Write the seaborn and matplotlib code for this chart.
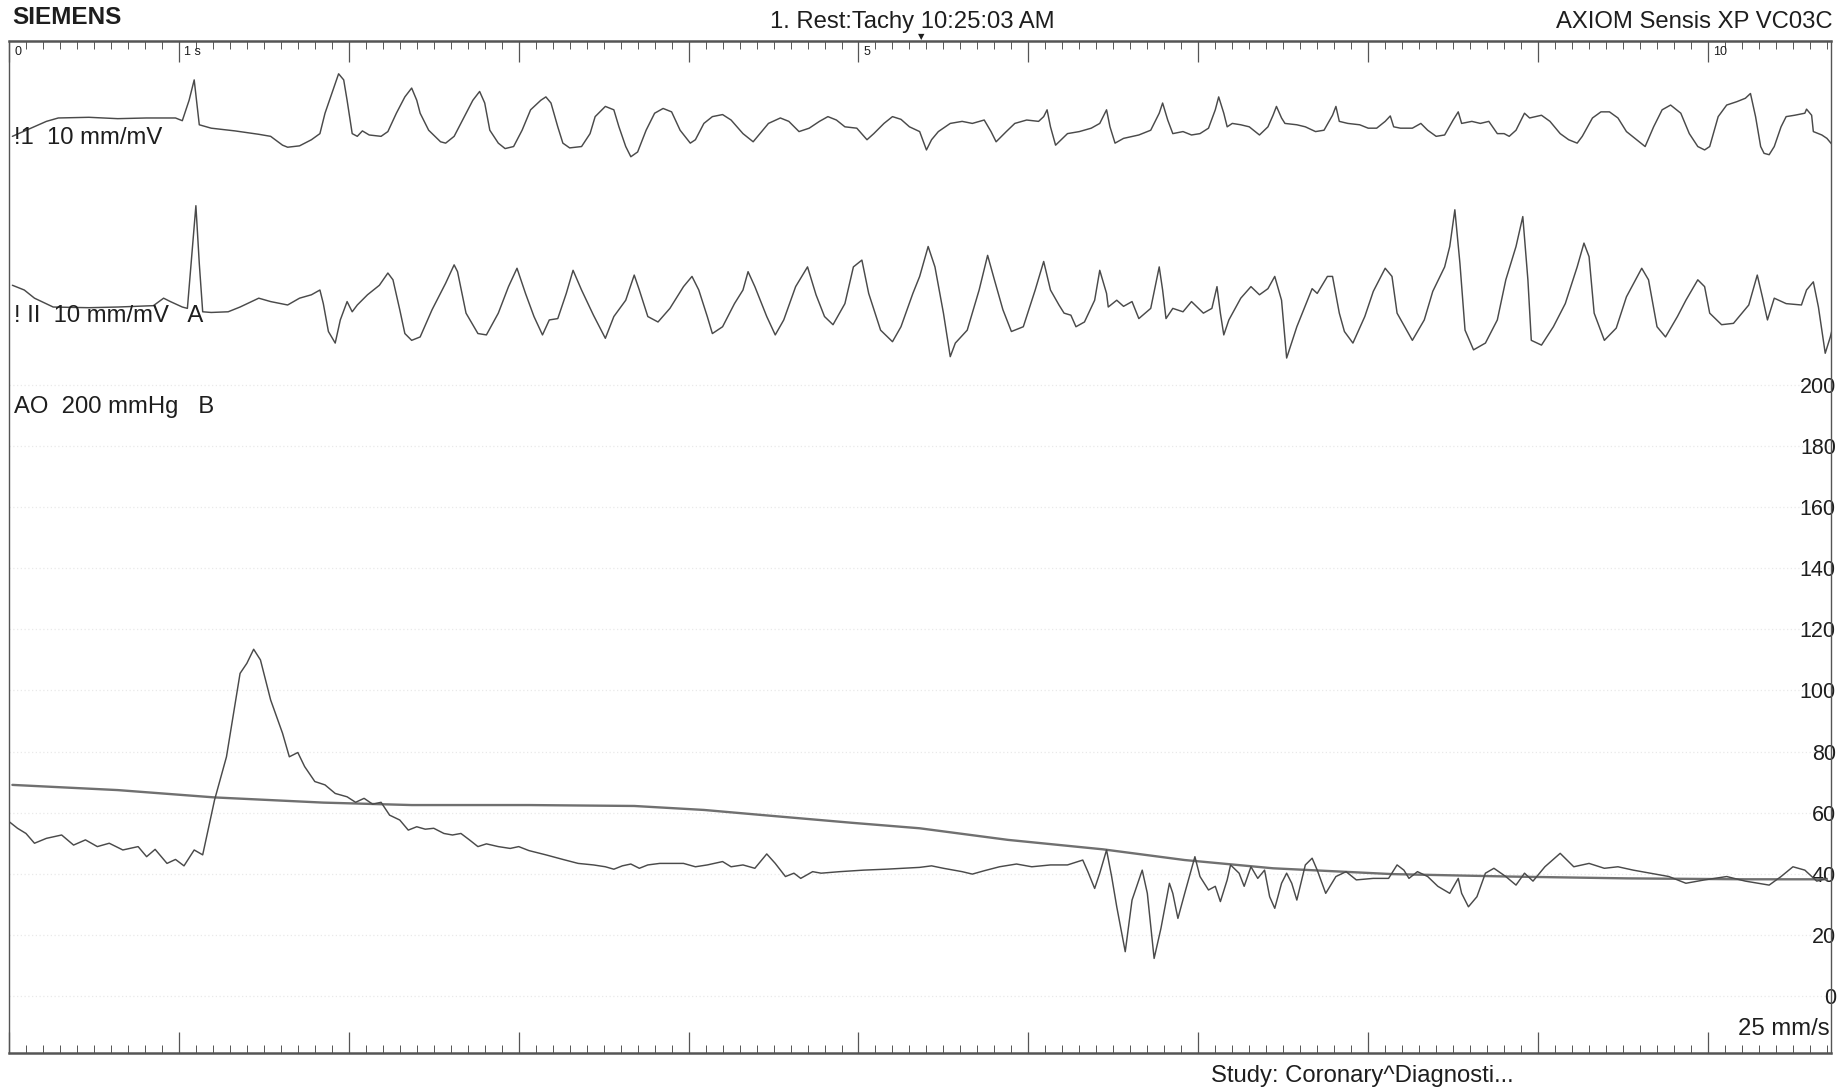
import numpy as np
import pandas as pd
import matplotlib
matplotlib.use("Agg")
import matplotlib.pyplot as plt
import matplotlib.transforms as mtransforms
from matplotlib.ticker import MultipleLocator
import seaborn as sns

# ---------------- data ----------------
lead1_t = [0.02,0.22,0.29,0.47,0.64,0.81,0.98,1.02,1.06,1.09,1.12,1.19,1.33,1.47,1.54,1.61,1.64,
           1.71,1.78,1.83,1.86,1.90,1.94,1.97,1.99,2.02,2.05,2.08,2.12,2.19,2.23,2.28,2.33,2.37,2.40,2.42,2.47,
           2.54,2.57,2.62,2.68,2.73,2.77,2.80,2.83,2.88,2.92,2.97,3.02,3.07,3.13,3.16,3.19,3.23,3.26,3.30,3.37,
           3.42,3.45,3.51,3.56,3.59,3.63,3.66,3.70,3.75,3.80,3.85,3.90,3.95,4.01,4.04,4.09,4.14,4.20,4.25,4.32,
           4.38,4.42,4.47,4.54,4.59,4.65,4.71,4.77,4.82,4.87,4.92,4.99,5.05,5.09,5.15,5.20,5.25,5.30,5.36,
           5.40,5.43,5.47,5.54,5.61,5.67,5.74,5.78,5.81,5.87,5.92,5.99,6.06,6.09,6.11,6.13,6.16,6.23,6.30,6.37,
           6.42,6.46,6.48,6.51,6.56,6.65,6.72,6.77,6.79,6.82,6.85,6.91,6.96,7.01,7.06,7.10,7.12,7.15,7.17,7.20,
           7.25,7.30,7.36,7.41,7.44,7.46,7.49,7.51,7.58,7.63,7.69,7.74,7.79,7.81,7.83,7.88,7.95,8.00,8.05,8.10,
           8.13,8.15,8.19,8.26,8.31,8.35,8.40,8.45,8.50,8.53,8.55,8.61,8.66,8.71,8.76,8.80,8.83,8.87,8.92,8.95,
           9.02,9.07,9.13,9.18,9.23,9.26,9.32,9.37,9.42,9.47,9.52,9.58,9.63,9.68,9.73,9.78,9.84,9.89,9.94,9.98,
           10.01,10.06,10.11,10.17,10.22,10.25,10.28,10.31,10.33,10.36,10.39,10.43,10.46,10.51,10.57,10.58,
           10.61,10.62,10.67,10.70,10.74,10.76]
lead1_mv = [-0.27,-0.05,0.00,0.01,-0.01,0.00,0.00,-0.04,0.26,0.56,-0.10,-0.15,-0.19,-0.24,-0.27,-0.40,-0.43,
            -0.41,-0.32,-0.23,0.07,0.36,0.65,0.56,0.26,-0.23,-0.27,-0.19,-0.25,-0.27,-0.20,0.07,0.31,0.44,0.26,0.07,-0.18,
            -0.35,-0.37,-0.27,0.02,0.26,0.39,0.22,-0.18,-0.37,-0.45,-0.42,-0.18,0.12,0.26,0.31,0.22,-0.13,-0.37,-0.44,-0.42,
            -0.23,0.02,0.17,0.12,-0.13,-0.42,-0.57,-0.50,-0.18,0.07,0.14,0.09,-0.18,-0.37,-0.32,-0.08,0.02,0.05,-0.03,-0.23,
            -0.35,-0.23,-0.08,0.00,-0.05,-0.20,-0.15,-0.05,0.02,-0.03,-0.13,-0.15,-0.32,-0.23,-0.08,0.02,-0.02,-0.13,-0.20,
            -0.47,-0.32,-0.20,-0.08,-0.05,-0.08,-0.03,-0.20,-0.35,-0.20,-0.08,-0.03,-0.05,0.02,0.12,-0.13,-0.40,-0.23,-0.20,-0.15,
            -0.08,0.12,-0.13,-0.37,-0.30,-0.25,-0.18,0.07,0.22,-0.03,-0.23,-0.20,-0.25,-0.23,-0.15,0.12,0.31,0.07,-0.13,-0.08,
            -0.10,-0.13,-0.25,-0.13,0.04,0.17,0.00,-0.08,-0.10,-0.13,-0.20,-0.18,0.04,0.17,-0.05,-0.08,-0.10,-0.15,-0.15,-0.05,
            0.03,-0.13,-0.15,-0.15,-0.08,-0.18,-0.27,-0.25,-0.03,0.09,-0.08,-0.05,-0.08,-0.05,-0.23,-0.23,-0.27,-0.18,0.07,0.00,
            0.04,-0.05,-0.23,-0.32,-0.37,-0.27,0.00,0.09,0.09,0.00,-0.20,-0.32,-0.42,-0.13,0.12,0.19,0.07,-0.23,-0.42,-0.47,
            -0.42,0.02,0.19,0.24,0.29,0.36,0.02,-0.42,-0.52,-0.54,-0.42,-0.13,0.02,0.04,0.07,0.13,
            0.04,-0.20,-0.25,-0.30,-0.42,-0.35]

lead2_t = [0.02,0.09,0.15,0.26,0.47,0.64,0.85,0.91,0.95,1.02,1.05,1.08,1.10,1.12,1.14,1.19,1.29,1.36,1.47,1.54,
           1.64,1.71,1.78,1.83,1.85,1.88,1.92,1.95,1.99,2.02,2.05,2.11,2.18,2.23,2.26,2.30,2.33,2.37,2.42,2.49,
           2.57,2.62,2.64,2.69,2.73,2.76,2.81,2.88,2.94,2.99,3.04,3.09,3.14,3.18,3.23,3.28,3.32,3.37,3.44,3.51,
           3.56,3.63,3.68,3.71,3.76,3.82,3.89,3.97,4.02,4.06,4.11,4.14,4.20,4.27,4.32,4.35,4.39,4.46,4.51,4.56,
           4.63,4.70,4.75,4.80,4.85,4.92,4.97,5.02,5.06,5.13,5.20,5.25,5.32,5.36,
           5.41,5.45,5.50,5.54,5.57,5.64,5.71,5.76,5.80,5.85,5.90,5.97,6.04,6.09,6.13,6.18,6.21,6.25,6.28,6.33,
           6.39,6.42,6.46,6.47,6.52,6.56,6.61,6.65,6.72,6.77,6.79,6.81,6.85,6.91,6.96,7.03,7.08,7.11,7.13,7.15,
           7.18,7.25,7.31,7.36,7.41,7.45,7.49,7.52,7.58,7.67,7.70,7.76,7.79,7.83,7.86,7.91,7.98,8.03,8.10,8.14,
           8.17,8.26,8.33,8.38,8.45,8.48,8.51,8.54,8.57,8.62,8.69,8.76,8.81,8.87,8.91,8.94,8.96,9.02,9.09,9.16,
           9.23,9.27,9.30,9.33,9.39,9.46,9.52,9.61,9.65,9.70,9.75,9.82,9.87,9.94,9.98,10.01,10.08,10.15,10.24,10.29,
           10.32,10.35,10.39,10.46,10.55,10.58,10.62,10.65,10.69,10.72,10.76]
lead2_mv = [0.32,0.25,0.13,0.00,-0.01,0.00,0.02,0.13,0.08,0.00,-0.02,0.89,1.49,0.64,-0.07,-0.08,-0.07,0.00,0.13,0.08,
            0.03,0.13,0.18,0.25,0.05,-0.36,-0.53,-0.19,0.08,-0.07,0.03,0.18,0.32,0.50,0.40,-0.04,-0.39,-0.49,-0.44,-0.04,
            0.35,0.62,0.52,-0.09,-0.26,-0.39,-0.41,-0.09,0.30,0.57,0.20,-0.14,-0.41,-0.19,-0.17,0.20,0.54,0.25,-0.12,-0.46,
            -0.14,0.10,0.47,0.25,-0.14,-0.22,-0.02,0.30,0.45,0.25,-0.14,-0.39,-0.29,0.05,0.25,0.52,0.30,-0.14,-0.41,-0.19,
            0.30,0.59,0.18,-0.14,-0.26,0.05,0.59,0.69,0.20,-0.34,-0.51,-0.29,0.20,0.45,
            0.89,0.59,-0.09,-0.73,-0.53,-0.34,0.25,0.76,0.40,-0.04,-0.36,-0.29,0.25,0.67,0.25,0.03,-0.09,-0.12,-0.29,-0.22,
            0.10,0.54,0.20,0.00,0.10,0.01,0.08,-0.17,-0.02,0.59,0.25,-0.17,-0.02,-0.07,0.08,-0.09,-0.02,0.30,-0.09,-0.41,
            -0.19,0.13,0.30,0.18,0.27,0.45,0.10,-0.75,-0.29,0.27,0.20,0.45,0.45,-0.09,-0.36,-0.53,-0.14,0.23,0.57,0.45,
            -0.09,-0.49,-0.19,0.23,0.59,0.89,1.43,0.64,-0.34,-0.63,-0.53,-0.19,0.40,0.89,1.33,0.40,-0.49,-0.56,-0.29,0.05,
            0.59,0.94,0.74,-0.09,-0.49,-0.31,0.15,0.57,0.40,-0.29,-0.44,-0.14,0.10,0.40,0.30,-0.09,-0.26,-0.24,0.03,0.47,
            0.15,-0.19,0.13,0.05,0.03,0.25,0.37,0.00,-0.68,-0.44,-0.04]

ao_t = [0.00,0.05,0.10,0.15,0.22,0.31,0.38,0.45,0.52,0.59,0.67,0.76,0.81,0.86,0.93,0.98,1.03,1.09,1.14,1.21,
        1.28,1.36,1.40,1.44,1.48,1.54,1.61,1.65,1.70,1.74,1.80,1.86,1.92,1.99,2.04,2.09,2.14,2.19,2.24,2.30,
        2.35,2.40,2.45,2.50,2.56,2.61,2.66,2.71,2.76,2.81,2.88,2.95,3.00,3.06,3.16,3.26,3.35,3.44,3.51,3.56,
        3.61,3.66,3.71,3.76,3.83,3.90,3.97,4.04,4.11,4.20,4.25,4.32,4.39,4.46,4.51,4.57,4.62,4.66,4.73,4.78,
        4.89,5.03,5.16,5.36,
        5.43,5.50,5.61,5.67,5.74,5.83,5.93,6.02,6.13,6.23,6.32,6.35,6.39,6.42,6.46,6.49,6.52,6.57,6.61,6.67,
        6.70,6.74,6.78,6.83,6.85,6.88,6.92,6.98,7.01,7.06,7.10,7.13,7.17,7.19,7.24,7.27,7.31,7.35,7.39,7.42,
        7.45,7.49,7.52,7.55,7.58,7.63,7.67,7.70,7.75,7.81,7.87,7.93,8.03,8.12,8.17,8.21,8.24,8.29,8.35,8.41,
        8.48,8.53,8.55,8.59,8.64,8.69,8.74,8.81,8.87,8.92,8.97,9.04,9.13,9.21,9.30,9.39,9.47,9.56,9.66,9.77,
        9.87,9.98,10.11,10.22,10.36,10.43,10.50,10.57,10.64,10.70]
ao_mmhg = [57.1,54.9,53.2,50.0,51.6,52.7,49.4,51.1,48.9,50.0,47.8,48.9,45.6,48.0,43.4,44.7,42.6,47.8,46.2,64.2,
           78.3,105.6,108.9,113.5,110.0,96.9,86.0,78.3,79.7,75.1,70.2,69.1,66.3,65.2,63.4,64.7,62.8,63.4,59.2,57.6,
           54.3,55.4,54.6,54.9,53.2,52.7,53.2,51.1,48.9,49.8,48.9,48.3,48.9,47.6,46.2,44.7,43.4,42.9,42.3,41.5,
           42.6,43.2,41.8,42.9,43.4,43.4,43.4,42.3,42.9,44.0,42.3,42.9,41.8,46.5,43.4,39.1,40.2,38.5,40.7,40.2,
           40.7,41.2,41.5,42.1,
           42.6,41.8,40.7,39.9,41.0,42.3,43.2,42.3,42.9,42.9,44.5,40.7,35.2,40.2,47.8,39.1,29.2,14.5,31.4,41.2,
           33.6,12.3,22.1,36.9,33.6,25.4,33.6,45.6,39.1,34.7,35.9,30.9,38.0,42.9,40.2,35.9,42.3,38.5,41.2,32.5,
           28.7,36.9,40.2,36.9,31.4,42.9,45.1,41.2,33.6,39.1,40.7,38.0,38.5,38.5,42.9,41.2,38.5,40.7,39.1,35.9,
           33.6,38.5,33.6,29.2,32.5,40.2,41.8,39.1,36.3,40.2,37.6,42.3,46.7,42.3,43.4,41.8,42.3,41.2,40.2,39.1,
           36.9,38.0,39.1,37.6,36.3,39.1,42.3,41.2,37.6,38.5]

mean_t = [0.02,0.64,1.21,1.85,2.37,3.06,3.68,4.09,4.44,4.96,5.36,5.88,6.44,6.92,7.44,8.14,8.83,9.52,10.22,10.70]
mean_mmhg = [69.1,67.4,65.0,63.3,62.5,62.5,62.2,60.9,59.2,56.7,54.9,51.1,48.0,44.5,41.8,39.9,39.1,38.5,38.2,38.2]

pressure_ticks = [0, 20, 40, 60, 80, 100, 120, 140, 160, 180, 200]
ruler_labels = {0: "0", 1: "1 s", 5: "5", 10: "10"}

# ---------------- styling ----------------
sns.set_style("white")
plt.rcParams['font.family'] = ['Liberation Sans', 'DejaVu Sans']

W, H = 1844, 1089
fig = plt.figure(figsize=(W / 100, H / 100), dpi=100)
fig.patch.set_facecolor("white")

px_left, px_right, px_top, px_bottom = 9, 1831, 41, 1053
pos = [px_left / W, 1 - px_bottom / H, (px_right - px_left) / W, (px_bottom - px_top) / H]
XMAX = 10.724
TRACE = "#4a4a4a"
EDGE = "#555555"
TXT = "#1e1e1e"

ax = fig.add_axes(pos)          # pressure axis (and frame / rulers)
ax1 = fig.add_axes(pos)         # lead I
ax2 = fig.add_axes(pos)         # lead II
for a in (ax1, ax2):
    a.patch.set_alpha(0)
    a.set_xlim(0, XMAX)
    a.axis("off")

ax.set_xlim(0, XMAX)
ax.set_ylim(-18.66, 312.6)
ax1.set_ylim(-13.75, 1.132)
ax2.set_ylim(-10.97, 3.912)

df1 = pd.DataFrame({"t": lead1_t, "mv": lead1_mv})
df2 = pd.DataFrame({"t": lead2_t, "mv": lead2_mv})
dfa = pd.DataFrame({"t": ao_t, "p": ao_mmhg})
dfm = pd.DataFrame({"t": mean_t, "p": mean_mmhg})

sns.lineplot(data=df1, x="t", y="mv", ax=ax1, color=TRACE, lw=1.05, estimator=None, sort=False)
sns.lineplot(data=df2, x="t", y="mv", ax=ax2, color=TRACE, lw=1.05, estimator=None, sort=False)
sns.lineplot(data=dfm, x="t", y="p", ax=ax, color="#707070", lw=1.7, estimator=None, sort=False)
sns.lineplot(data=dfa, x="t", y="p", ax=ax, color=TRACE, lw=1.05, estimator=None, sort=False)
for a in (ax, ax1, ax2):
    a.set_xlabel("")
    a.set_ylabel("")

# frame
for s in ax.spines.values():
    s.set_visible(True)
    s.set_color(EDGE)
    s.set_linewidth(1.0)
ax.spines["top"].set_linewidth(1.8)
ax.spines["bottom"].set_linewidth(1.8)

# time rulers (top and bottom), major 1 s, minor 0.1 s
ax.xaxis.set_major_locator(MultipleLocator(1))
ax.xaxis.set_minor_locator(MultipleLocator(0.1))
ax.tick_params(axis="x", which="both", direction="in", top=True, bottom=True,
               labelbottom=False, labeltop=False, color=EDGE)
ax.tick_params(axis="x", which="major", length=15, width=0.9)
ax.tick_params(axis="x", which="minor", length=6, width=0.7)

# pressure scale on the right, inside
ax.set_yticks(pressure_ticks)
ax.set_yticklabels([str(v) for v in pressure_ticks])
ax.yaxis.tick_right()
ax.tick_params(axis="y", length=0, pad=3.5, labelsize=15.5, labelcolor=TXT)
for lbl in ax.get_yticklabels():
    lbl.set_horizontalalignment("right")
ax.grid(axis="y", color="#e9e9e9", lw=0.9, ls=(0, (1, 2)))
ax.grid(axis="x", visible=False)

# ruler tick labels
trans_top = mtransforms.blended_transform_factory(ax.transData, ax.transAxes)
for sec, lab in ruler_labels.items():
    ax.text(sec + 0.03, 0.995, lab, transform=trans_top, fontsize=9, color=TXT,
            ha="left", va="top")
ax.text(5.37, 1.004, "\u25bc", transform=trans_top, fontsize=6, color=TXT,
        ha="center", va="center", family=["DejaVu Sans"])

# header / annotations
def ftext(xp, yp, s, **kw):
    fig.text(xp / W, 1 - yp / H, s, **kw)

FS = 17.2
ftext(12, 18, "SIEMENS", fontsize=17.5, fontweight="bold", color=TXT, ha="left", va="center")
ftext(770, 22, "1. Rest:Tachy 10:25:03 AM", fontsize=FS, color=TXT, ha="left", va="center")
ftext(1833, 22, "AXIOM Sensis XP VC03C", fontsize=FS, color=TXT, ha="right", va="center")
ftext(14, 138, "!1  10 mm/mV", fontsize=FS, color=TXT, ha="left", va="center")
ftext(14, 316, "! II  10 mm/mV   A", fontsize=FS, color=TXT, ha="left", va="center")
ftext(14, 407, "AO  200 mmHg   B", fontsize=FS, color=TXT, ha="left", va="center")
ftext(1830, 1029, "25 mm/s", fontsize=FS, color=TXT, ha="right", va="center")
ftext(1211, 1076, "Study: Coronary^Diagnosti...", fontsize=FS, color=TXT, ha="left", va="center")

fig.savefig("out.png", dpi=100, facecolor="white")
